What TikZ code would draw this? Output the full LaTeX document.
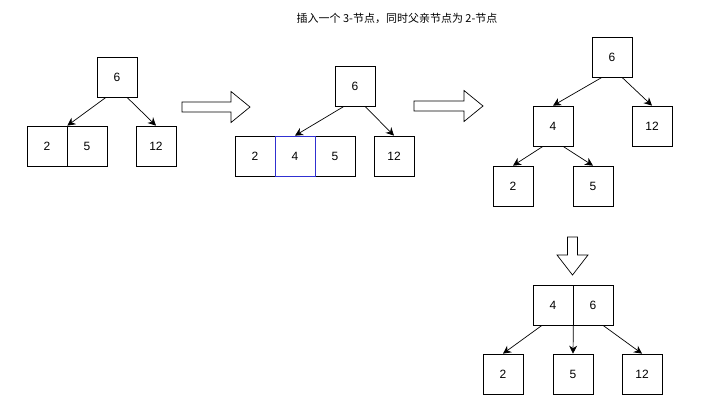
\documentclass[tikz,border=0pt]{standalone}
\usepackage{fontspec}
\setmainfont{Liberation Sans}
\newfontfamily\cjk{Noto Sans CJK SC}
\usetikzlibrary{arrows.meta}
\definecolor{splitblue}{HTML}{3030D0}

\begin{document}
\begin{tikzpicture}[x=1pt,y=-1pt]
		\tikzstyle{every node}+=[inner sep=0pt]
		\tikzstyle{key}=[draw=black,line width=0.7pt,minimum width=40pt,minimum height=40pt,font=\fontsize{12}{14}\selectfont]
		\tikzstyle{link}=[draw=black,line width=0.7pt,-{Stealth[length=8pt,width=8pt]}]
		\tikzstyle{bigarrow}=[draw=black,line width=0.7pt,fill=white,line join=miter]
		\useasboundingbox (0,0) rectangle (720,415);
		\node (title) at (397,18) {\cjk\fontsize{11}{13}\selectfont 插入一个 3-节点，同时父亲节点为 2-节点};
		% left tree
		\node [key] (n6) at (117,77) {6};
		\node [key] (b2) at (47,146) {2};
		\node [key] (b5) at (87,146) {5};
		\node [key] (b12) at (156,146) {12};
		\draw [link] ([xshift=-11pt]n6.south) -- (b2.north east);
		\draw [link] ([xshift=10pt]n6.south) -- (b12.north);
		\draw [bigarrow] (182,102) -- (231,102) -- (231,91.5) -- (250,107) -- (231,122.5) -- (231,112) -- (182,112) -- cycle;
		% middle tree
		\node [key] (m6) at (355,86) {6};
		\node [key] (m2) at (255,156) {2};
		\node [key] (m5) at (335,156) {5};
		\node [key,draw=splitblue] (m4) at (295,156) {4};
		\node [key] (m12) at (394,156) {12};
		\draw [link] ([xshift=-11pt]m6.south) -- (m4.north);
		\draw [link] ([xshift=10pt]m6.south) -- (m12.north);
		\draw [bigarrow] (414,101) -- (464,101) -- (464,90.5) -- (483,106) -- (464,121.5) -- (464,111) -- (414,111) -- cycle;
		% right tree
		\node [key] (r6) at (612,57) {6};
		\node [key] (r4) at (553,126) {4};
		\node [key] (r12) at (652,126) {12};
		\node [key] (r2) at (513,186) {2};
		\node [key] (r5) at (593,186) {5};
		\draw [link] ([xshift=-10pt]r6.south) -- (r4.north);
		\draw [link] ([xshift=10pt]r6.south) -- (r12.north);
		\draw [link] ([xshift=-10pt]r4.south) -- (r2.north);
		\draw [link] ([xshift=10pt]r4.south) -- (r5.north);
		\draw [bigarrow] (567.5,237) -- (567.5,255) -- (557,255) -- (572.5,275) -- (588,255) -- (577.5,255) -- (577.5,237) -- cycle;
		% after split
		\node [key] (s4) at (553,305) {4};
		\node [key] (s6) at (593,305) {6};
		\node [key] (s2) at (503,374) {2};
		\node [key] (s5) at (573,374) {5};
		\node [key] (s12) at (642,374) {12};
		\draw [link] ([xshift=-11pt]s4.south) -- (s2.north);
		\draw [link] (s4.south east) -- (s5.north);
		\draw [link] ([xshift=10pt]s6.south) -- (s12.north);
	\end{tikzpicture}
\end{document}
